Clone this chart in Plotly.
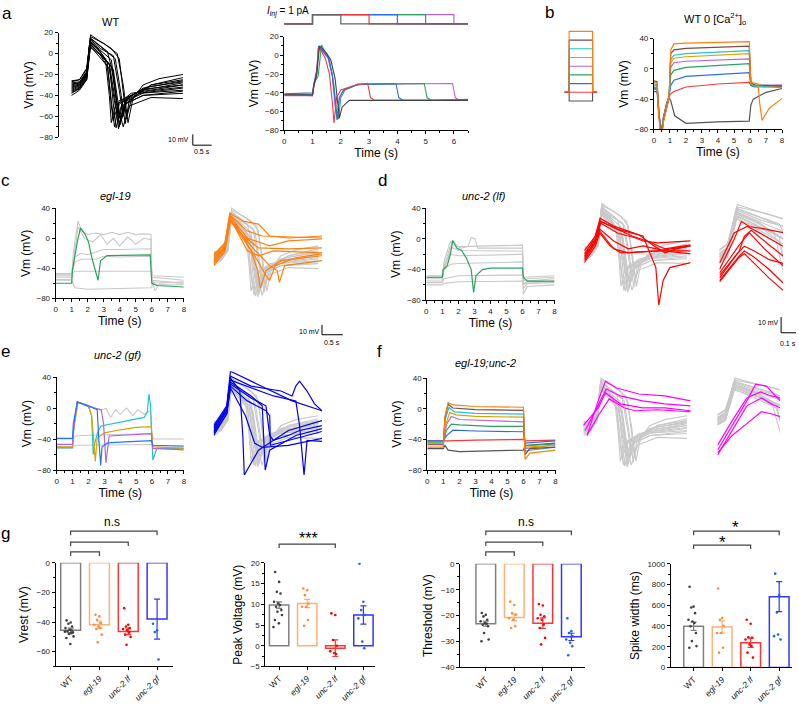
import plotly.graph_objects as go

W, H = 799, 708
FONT = "Arial, Liberation Sans, sans-serif"

GREEN = '#2ca25f'; RED = '#f03c3c'; BLUE = '#2a6fe8'; PURPLE = '#b266e0'
GOLD = '#d9a400'; CYAN = '#22c4cc'; BROWN = '#7d4b3e'; ORANGE = '#ff7f0e'; DARK = '#555555'
GREY = '#c8c8c8'

# ---------------- DATA ----------------
# panel a (left): WT spikes aligned at onset: (time s, Vm mV)
wt_spikes = [
    ([0, 0.2, 0.38, 0.48, 0.7, 1.0, 1.2, 1.3, 1.38, 1.5, 1.8, 2.2, 2.8], [-27, -25, -15, 18, 12, 5, -5, -35, -62, -45, -30, -24, -20]),
    ([0, 0.2, 0.38, 0.47, 0.7, 0.9, 1.05, 1.15, 1.2, 1.35, 1.8, 2.8], [-30, -28, -18, 15, 8, 2, -20, -55, -70, -45, -33, -26]),
    ([0, 0.2, 0.38, 0.46, 0.65, 0.85, 0.95, 1.0, 1.1, 1.5, 2.8], [-33, -30, -20, 12, 5, -5, -40, -66, -50, -38, -30]),
    ([0, 0.2, 0.38, 0.47, 0.7, 0.95, 1.1, 1.18, 1.3, 1.7, 2.8], [-35, -32, -22, 10, 2, -10, -45, -72, -50, -38, -33]),
    ([0, 0.2, 0.38, 0.48, 0.7, 0.95, 1.1, 1.22, 1.35, 1.8, 2.8], [-38, -33, -25, 8, 0, -15, -50, -68, -48, -40, -36]),
    ([0, 0.2, 0.38, 0.47, 0.75, 1.05, 1.2, 1.3, 1.45, 2.0, 2.8], [-40, -35, -25, 6, -2, -15, -55, -70, -50, -42, -43]),
    ([0, 0.2, 0.38, 0.48, 0.75, 1.1, 1.25, 1.35, 1.45, 2.0, 2.8], [-28, -27, -17, 14, 6, -5, -40, -67, -45, -30, -25]),
    ([0, 0.2, 0.38, 0.46, 0.7, 0.9, 1.0, 1.05, 1.2, 1.8, 2.8], [-31, -29, -19, 11, 3, -8, -50, -64, -45, -35, -28]),
    ([0, 0.2, 0.38, 0.47, 0.72, 1.0, 1.15, 1.25, 1.4, 1.9, 2.8], [-34, -31, -21, 9, -1, -12, -50, -64, -45, -36, -32]),
    ([0, 0.2, 0.38, 0.48, 0.8, 1.15, 1.3, 1.42, 1.55, 2.0, 2.8], [-26, -25, -14, 16, 10, 0, -30, -66, -42, -30, -23]),
    ([0, 0.2, 0.38, 0.47, 0.7, 1.0, 1.12, 1.2, 1.3, 1.8, 2.8], [-32, -30, -20, 12, 4, -6, -40, -62, -45, -34, -30]),
    ([0, 0.2, 0.38, 0.47, 0.7, 0.9, 1.0, 1.08, 1.2, 1.7, 2.8], [-36, -33, -23, 7, -3, -12, -45, -70, -48, -38, -35]),
    ([0, 0.2, 0.38, 0.48, 0.72, 1.05, 1.2, 1.3, 1.4, 1.9, 2.8], [-29, -28, -18, 13, 5, -2, -35, -60, -42, -32, -27]),
    ([0, 0.2, 0.38, 0.46, 0.68, 0.95, 1.05, 1.12, 1.25, 1.8, 2.8], [-37, -34, -24, 9, 1, -10, -48, -71, -50, -40, -38]),
]

# panel a (middle): current-step protocol end times and responses
a_step_times = [0, 1, 6.5]
a_step_ends = [6, 5, 4, 3, 2]
a_step_colors = [PURPLE, GREEN, BLUE, RED, '#666666']
a_resp = [
    (PURPLE, [0, 1, 1.05, 1.15, 1.22, 1.35, 1.55, 1.7, 1.8, 1.87, 1.95, 2.1, 2.6, 5.95, 6.05, 6.2, 6.5],
     [-43, -43, -31, -18, 9, 4, -3, -22, -55, -68, -45, -37, -31, -30, -45, -48, -48]),
    (GREEN, [0, 1, 1.05, 1.2, 1.32, 1.45, 1.6, 1.75, 1.85, 1.92, 2.0, 2.15, 2.6, 4.95, 5.05, 5.2, 6.5],
     [-42, -42, -30, -22, 11, 3, -5, -30, -60, -68, -45, -37, -31, -30, -45, -48, -47]),
    (BLUE, [0, 1, 1.05, 1.15, 1.22, 1.35, 1.55, 1.7, 1.8, 1.87, 1.95, 2.1, 2.6, 3.95, 4.05, 4.2, 6.5],
     [-41, -40, -30, -15, 10, 5, -2, -20, -50, -69, -45, -37, -31, -30, -45, -48, -48]),
    (RED, [0, 1, 1.05, 1.15, 1.2, 1.3, 1.45, 1.6, 1.7, 1.76, 1.85, 2.0, 2.5, 2.95, 3.05, 3.2, 6.5],
     [-42, -43, -33, -20, 8, 5, -3, -20, -50, -72, -45, -37, -32, -30, -45, -48, -48]),
    ('#444444', [0, 1.0, 1.05, 1.15, 1.25, 1.5, 1.65, 1.8, 1.95, 2.05, 2.3, 6.5],
     [-42, -42, -32, -20, 10, 2, -5, -25, -67, -55, -48, -48]),
]

# panel b: WT in 0 Ca, step protocol levels and responses
b_prot_times = [0, 1, 6, 7]
b_levels = [-1, 1, 2, 3, 4, 5, 6, 7, 0]
b_level_colors = [DARK, BLUE, GREEN, PURPLE, GOLD, CYAN, BROWN, ORANGE, RED]
b_t = [0, 0.2, 0.3, 0.45, 0.6, 0.8, 0.95, 1.05, 1.25, 2, 4, 5.95, 6.05, 6.3, 8]
b_resp = [
    (DARK, [0, 0.2, 0.3, 0.5, 0.65, 0.8, 0.95, 1.05, 1.3, 2, 4, 5.95, 6.05, 6.2, 7, 8],
     [-30, -30, -60, -82, -60, -45, -38, -42, -62, -72, -70, -69, -48, -40, -31, -26]),
    (RED, b_t, [-27, -27, -55, -88, -63, -45, -36, -33, -30, -24, -20, -18, -22, -23, -22]),
    (BLUE, b_t, [-25, -25, -55, -88, -64, -46, -36, -22, -15, -10, -7, -5, -22, -24, -23]),
    (GREEN, b_t, [-26, -26, -56, -90, -64, -46, -36, -8, -2, 2, 5, 7, -21, -23, -22]),
    (PURPLE, b_t, [-24, -24, -55, -90, -65, -47, -36, 2, 8, 10, 12, 13, -19, -22, -21]),
    (GOLD, b_t, [-22, -22, -55, -92, -66, -47, -37, 8, 14, 16, 18, 20, -20, -22, -24]),
    (CYAN, b_t, [-20, -21, -55, -95, -68, -48, -37, 12, 18, 20, 22, 24, -20, -23, -25]),
    (BROWN, b_t, [-16, -17, -55, -95, -68, -50, -38, 20, 25, 27, 29, 30, -18, -21, -23]),
    (ORANGE, [0, 0.2, 0.3, 0.45, 0.6, 0.8, 0.95, 1.05, 1.25, 2, 4, 5.95, 6.05, 6.5, 6.6, 6.75, 7.2, 8],
     [-18, -19, -60, -99, -70, -50, -38, 25, 33, 34, 35, 36, -18, -20, -45, -68, -52, -39]),
]

# panel c: egl-19
c_grey = [
    ([0, 1, 1.1, 1.4, 1.6, 2, 2.5, 3, 3.5, 4, 4.5, 5, 5.5, 5.95, 6.0, 6.2, 6.5, 8],
     [-50, -50, -20, 23, 10, 5, 7, 5, 8, 5, 8, 5, 6, 5, -55, -70, -60, -58]),
    ([0, 1, 1.1, 1.4, 1.8, 2.3, 2.8, 3.2, 3.6, 4.0, 4.5, 5.0, 5.5, 5.95, 6.0, 6.3, 8],
     [-55, -55, -30, 15, 0, -5, 5, -8, 0, -10, 2, -8, 0, -2, -58, -62, -62]),
    ([0, 1, 1.2, 1.6, 2.0, 2.5, 3, 4, 5, 5.95, 6.0, 8], [-52, -52, -25, -20, -22, -18, -15, -15, -15, -14, -56, -60]),
    ([0, 1, 1.2, 1.6, 2.5, 3, 4, 5, 5.95, 6.0, 8], [-48, -48, -32, -28, -28, -24, -25, -24, -24, -52, -56]),
    ([0, 1, 1.2, 2, 6, 6.05, 8], [-47, -47, -44, -44, -44, -50, -52]),
    ([0, 1, 1.2, 2, 6, 6.05, 8], [-56, -56, -66, -68, -66, -58, -60]),
]
c_green = ([0, 1.0, 1.05, 1.2, 1.35, 1.55, 1.85, 2.05, 2.25, 2.5, 2.65, 2.8, 3.2, 5.9, 6.0, 6.3, 8],
           [-60, -60, -42, -22, -5, 14, 5, -5, -25, -45, -56, -30, -23, -22, -60, -63, -65])
c_orange = [
    ([0, 0.3, 0.43, 0.8, 1.2, 1.5, 2.0, 2.9], [-30, -18, 13, 5, 2, -10, -12, -10]),
    ([0, 0.3, 0.44, 0.9, 1.5, 2.0, 2.9], [-33, -20, 10, -12, -20, -15, -13]),
    ([0, 0.3, 0.42, 0.8, 1.2, 2.0, 2.9], [-36, -22, 8, -10, -22, -23, -22]),
    ([0, 0.3, 0.43, 1.0, 1.18, 1.25, 1.4, 1.8, 2.9], [-35, -21, 12, -25, -45, -63, -45, -35, -30]),
    ([0, 0.3, 0.44, 1.1, 1.4, 1.5, 1.65, 2.2, 2.9], [-38, -24, 6, -30, -50, -55, -40, -32, -28]),
    ([0, 0.3, 0.45, 1.0, 1.5, 1.7, 1.76, 1.9, 2.9], [-40, -26, 5, -20, -40, -45, -57, -40, -35]),
    ([0, 0.3, 0.43, 0.9, 1.2, 1.6, 2.9], [-32, -20, 9, -25, -30, -25, -27]),
    ([0, 0.3, 0.44, 0.9, 1.3, 2.9], [-29, -17, 11, -5, -10, -12]),
]

# panel d: unc-2 (lf)
d_grey = [
    ([0, 1, 1.1, 1.5, 1.7, 2.2, 2.6, 2.8, 3.05, 3.2, 6, 6.05, 6.3, 8], [-52, -52, -30, -3, -8, -12, -10, 2, 0, -12, -12, -65, -58, -55]),
    ([0, 1, 1.1, 1.5, 2.0, 6, 6.05, 6.3, 8], [-55, -55, -35, -10, -15, -16, -72, -62, -60]),
    ([0, 1, 1.1, 1.5, 2.0, 6, 6.05, 6.3, 8], [-48, -48, -35, -20, -22, -20, -60, -55, -52]),
    ([0, 1, 1.1, 1.5, 2.0, 6, 6.05, 6.3, 8], [-50, -50, -40, -33, -32, -30, -55, -52, -50]),
    ([0, 1, 1.1, 2.0, 6, 6.05, 8], [-57, -57, -52, -48, -47, -50, -48]),
    ([0, 1, 1.1, 2.0, 6, 6.05, 8], [-60, -60, -58, -56, -55, -58, -57]),
    ([0, 1, 1.1, 1.5, 1.6, 2.0, 6, 6.05, 6.3, 8], [-50, -50, -40, -15, -2, -10, -8, -60, -55, -56]),
]
d_green = ([0, 1, 1.05, 1.3, 1.5, 1.65, 1.9, 2.2, 2.5, 2.8, 2.95, 3.1, 3.5, 4, 6, 6.05, 6.3, 8],
           [-50, -50, -40, -35, -20, -2, -12, -15, -25, -40, -70, -48, -40, -38, -38, -50, -55, -55])
d_red_full = [
    ([0, 0.3, 0.43, 0.8, 1.2, 1.5, 1.9, 2.2, 2.5, 2.9], [-30, -15, 3, -5, -10, -14, -25, -32, -28, -25]),
    ([0, 0.3, 0.45, 0.9, 1.4, 1.6, 2.0, 2.9], [-33, -18, -2, -12, -17, -20, -22, -20]),
    ([0, 0.3, 0.44, 0.9, 1.3, 1.6, 1.95, 2.03, 2.15, 2.33, 2.9], [-36, -20, 0, -8, -12, -15, -47, -85, -60, -47, -42]),
    ([0, 0.3, 0.42, 0.8, 1.2, 2.0, 2.9], [-38, -20, -10, -28, -32, -30, -25]),
    ([0, 0.3, 0.42, 0.7, 1.0, 2.0, 2.9], [-42, -25, -12, -25, -32, -30, -30]),
    ([0, 0.3, 0.43, 0.9, 1.3, 1.7, 2.2, 2.9], [-35, -15, 0, -8, -15, -20, -28, -24]),
    ([0, 0.3, 0.42, 0.8, 1.2, 1.6, 2.2, 2.9], [-40, -22, -8, -20, -28, -25, -30, -33]),
]
d_red_zoom = [
    ([0.3, 0.45, 0.52, 0.6, 0.75, 0.94], [-35, -10, 4, 0, -2, -5]),
    ([0.3, 0.45, 0.58, 0.7, 0.94], [-30, -5, 0, -5, -16]),
    ([0.3, 0.5, 0.55, 0.62, 0.8, 0.94], [-40, -20, -8, -3, -15, -24]),
    ([0.3, 0.48, 0.55, 0.65, 0.8, 0.94], [-42, -22, -16, -20, -27, -30]),
    ([0.3, 0.5, 0.55, 0.65, 0.8, 0.94], [-44, -24, -20, -25, -35, -46]),
    ([0.3, 0.5, 0.55, 0.65, 0.8, 0.94], [-45, -25, -22, -30, -42, -52]),
    ([0.3, 0.5, 0.6, 0.75, 0.94], [-38, -15, -5, -18, -32]),
]

# panel e: unc-2 (gf)
e_grey = [
    ([0, 1, 1.2, 2, 6, 6.1, 8], [-40, -40, -36, -35, -33, -40, -40]),
    ([0, 1, 1.2, 6, 6.1, 8], [-50, -50, -48, -47, -50, -52]),
    ([0, 1, 1.1, 1.3, 2.0, 2.8, 3.1, 3.4, 3.7, 4.0, 4.4, 4.8, 5.1, 5.5, 5.9, 6.0, 8],
     [-52, -52, -20, 8, 3, -3, 0, -12, -2, -8, 0, -10, -2, -8, -3, -48, -50]),
]
e_color = [
    (CYAN, [0, 1, 1.05, 1.3, 2.0, 2.2, 2.3, 2.4, 2.6, 2.8, 4, 5.5, 5.7, 5.8, 5.9, 6.0, 6.05, 6.3, 8],
     [-51, -51, -30, 8, 2, -10, -60, -45, -30, -23, -18, -12, -5, 18, 5, -50, -67, -52, -52]),
    (GOLD, [0, 1, 1.05, 1.2, 1.35, 2.0, 2.2, 2.35, 2.43, 2.55, 3.0, 4, 5, 5.95, 6.05, 8],
     [-50, -50, -30, -10, 8, 3, -10, -45, -69, -39, -32, -28, -25, -24, -50, -52]),
    (PURPLE, [0, 1, 1.1, 1.3, 2.0, 2.8, 2.95, 3.05, 3.1, 3.3, 5.95, 6.05, 8],
     [-47, -47, -20, 8, 2, -2, -20, -60, -71, -36, -33, -52, -54]),
    ('#1e78ff', [0, 1, 1.05, 1.3, 2.0, 2.55, 2.65, 2.77, 2.85, 3.2, 4, 5, 5.95, 6.05, 8],
     [-39, -39, -20, 8, 3, -2, -40, -74, -50, -45, -44, -43, -42, -48, -49]),
]
e_blue = [
    ([0, 0.35, 0.45, 1.05, 1.85, 2.1, 2.9], [-30, -10, 25, 14, -1, -5, -15]),
    ([0, 0.35, 0.45, 0.7, 0.78, 0.82, 1.2, 2.0, 2.9], [-33, -12, 18, 5, -40, -80, -55, -35, -25]),
    ([0, 0.35, 0.45, 1.0, 1.3, 1.38, 1.5, 2.2, 2.9], [-36, -15, 14, 0, -10, -75, -55, -40, -33]),
    ([0, 0.35, 0.45, 0.9, 1.4, 1.5, 1.52, 2.0, 2.9], [-38, -18, 10, -5, -15, -20, -50, -45, -36]),
    ([0, 0.35, 0.45, 0.85, 1.1, 1.3, 2.0, 2.9], [-40, -18, 8, -20, -48, -52, -50, -43]),
    ([0, 0.35, 0.45, 1.0, 1.6, 2.2, 2.3, 2.42, 2.5, 2.9], [-35, -14, 16, 8, 0, -5, -30, -80, -45, -46]),
    ([0, 0.35, 0.45, 1.0, 1.4, 1.5, 1.6, 2.0, 2.3, 2.9], [-37, -15, 12, -2, -10, -40, -45, -40, -35, -30]),
    ([0, 0.35, 0.45, 1.0, 1.8, 2.1, 2.2, 2.3, 2.5, 2.7, 2.9], [-32, -12, 20, 10, 5, 0, 10, 15, 5, -8, -15]),
]

# panel f: egl-19;unc-2
f_t = [0, 1, 1.1, 1.3, 1.6, 3, 6, 6.1, 6.4, 8]
f_resp = [
    (DARK, [0, 1, 1.1, 1.3, 2, 4, 6, 6.1, 8], [-52, -52, -48, -54, -56, -55, -54, -48, -45]),
    (RED, [0, 1, 1.3, 3, 6, 6.1, 8], [-42, -42, -42, -41, -40, -42, -41]),
    (BLUE, [0, 1, 1.2, 1.6, 3, 6, 6.1, 8], [-42, -42, -35, -28, -29, -30, -45, -42]),
    (GREEN, [0, 1, 1.2, 1.5, 2, 4, 6, 6.1, 8], [-43, -43, -28, -20, -21, -23, -23, -48, -46]),
    (PURPLE, [0, 1, 1.2, 1.5, 2, 3, 6, 6.1, 8], [-46, -46, -20, -10, -14, -15, -17, -52, -47]),
    (GOLD, [0, 1, 1.15, 1.4, 1.8, 3, 6, 6.1, 8], [-44, -44, -20, -5, -8, -10, -11, -50, -48]),
    (CYAN, [0, 1, 1.1, 1.35, 1.7, 3, 6, 6.1, 8], [-45, -45, -15, 2, -4, -6, -7, -55, -50]),
    (BROWN, f_t, [-47, -47, -12, 6, 1, -1, -2, -60, -52, -50]),
    (ORANGE, f_t, [-50, -50, -10, 8, 5, 3, 2, -66, -58, -54]),
]
f_mag_full = [
    ([0.1, 0.4, 0.6, 0.9, 1.5, 2.2, 2.9], [-40, -5, 15, 8, 2, 0, -5]),
    ([0.05, 0.4, 0.62, 1.0, 1.6, 2.2, 2.9], [-35, -10, 7, 0, -5, -8, -10]),
    ([0.0, 0.4, 0.6, 1.0, 1.6, 2.2, 2.9], [-30, -12, 3, -8, -12, -12, -15]),
    ([0.1, 0.4, 0.7, 1.1, 1.4, 2.0, 2.9], [-40, -20, -3, -12, -15, -14, -16]),
]
f_mag_zoom = [
    ([0.3, 0.45, 0.6, 0.69, 0.8, 0.94], [-55, -30, -5, 12, 10, -5]),
    ([0.3, 0.45, 0.6, 0.74, 0.85, 0.94], [-50, -25, -2, 4, 0, -2]),
    ([0.3, 0.45, 0.6, 0.75, 0.85, 0.94], [-60, -35, -10, -2, -8, -12]),
    ([0.3, 0.45, 0.6, 0.75, 0.85, 0.94], [-58, -40, -28, -16, -18, -21]),
]

# panel g: summary statistics
g_groups = ['WT', '<i>egl-19</i>', '<i>unc-2 lf</i>', '<i>unc-2 gf</i>']
g_bar_colors = ['#808080', '#ffb074', '#ff3434', '#3434ff']
g_dot_colors = ['#404040', '#ff8a3d', '#ff0000', '#2060ff']
vrest_mean = [-45.6, -41.8, -46.3, -38.0]
vrest_sem = [1.5, 2.5, 2.2, 13.5]
vrest_pts = [
    [-38.9, -40.3, -41.2, -43.0, -44.1, -45.2, -45.6, -46.3, -47.0, -48.1, -49.7, -50.8, -54.8, -46.5, -47.5],
    [-35.1, -36.2, -38.5, -40.7, -41.8, -43.0, -44.1, -44.7, -48.5, -53.7],
    [-30.6, -41.8, -43.0, -44.1, -44.7, -45.6, -47.0, -48.5, -50.1, -55.3],
    [-41.2, -45.6, -46.8, -65.3],
]
peak_mean = [9.8, 10.2, -0.6, 7.4]
peak_sem = [0.8, 1.0, 2.0, 2.2]
peak_pts = [
    [17.8, 15.4, 13.0, 12.6, 10.6, 10.2, 9.8, 9.4, 8.6, 8.2, 7.4, 6.2, 5.4, 4.5],
    [13.8, 13.4, 12.2, 10.2, 9.4, 9.4, 6.2, 4.8],
    [7.8, 7.4, 1.4, 0.0, -1.35, -1.75, -2.0],
    [19.8, 10.6, 8.6, 7.4, 6.6, 1.0, -0.6],
]
thr_mean = [-23.1, -20.7, -22.9, -28.2]
thr_sem = [1.0, 1.3, 2.0, 1.4]
thr_pts = [
    [-19.0, -19.7, -20.3, -21.6, -22.2, -22.9, -23.1, -23.5, -24.1, -26.7, -29.2, -29.9],
    [-14.6, -15.9, -19.0, -19.7, -21.0, -21.6, -24.1, -24.8],
    [-15.5, -16.1, -19.7, -20.3, -21.0, -21.6, -23.5, -24.8, -28.6, -31.1],
    [-21.0, -26.0, -26.7, -28.0, -29.2, -30.5, -31.8, -35.3],
]
width_mean = [397, 390, 238, 683]
width_sem = [40, 60, 45, 145]
width_pts = [
    [778, 587, 578, 524, 460, 444, 429, 397, 333, 254, 206, 190],
    [762, 476, 460, 403, 333, 333, 190, 143],
    [460, 422, 292, 286, 270, 222, 206, 143, 95],
    [905, 698, 530, 270, 302, 317],
]
dot_jitter = [-0.10, 0.04, -0.04, 0.09, -0.14, 0.0, 0.07, -0.07, 0.12, -0.02, 0.14, -0.11, 0.03, -0.16, 0.06]

# ---------------- FIGURE ----------------
fig = go.Figure()
layout = {}
count = [0]

AXLINE = dict(showline=True, linecolor='black', linewidth=1, ticks='outside', ticklen=3,
              tickwidth=1, tickcolor='black', showgrid=False, zeroline=False,
              tickfont=dict(size=8, family=FONT, color='#222'))


def add_axes(xpx, ypx, xr, yr, xopt=None, yopt=None):
    count[0] += 1
    n = count[0]
    s = '' if n == 1 else str(n)
    xa = dict(domain=[xpx[0] / W, xpx[1] / W], range=xr, anchor='y' + s, fixedrange=True)
    ya = dict(domain=[1 - ypx[1] / H, 1 - ypx[0] / H], range=yr, anchor='x' + s, fixedrange=True)
    if xopt is None:
        xa['visible'] = False
    else:
        xa.update(AXLINE); xa.update(xopt)
    if yopt is None:
        ya['visible'] = False
    else:
        ya.update(AXLINE); ya.update(yopt)
    layout['xaxis' + s] = xa
    layout['yaxis' + s] = ya
    return 'x' + s, 'y' + s


def line(ax, t, v, color, width=1.0):
    fig.add_trace(go.Scatter(x=t, y=v, mode='lines', line=dict(color=color, width=width),
                             xaxis=ax[0], yaxis=ax[1], hoverinfo='skip', showlegend=False))


def ytitle(txt, standoff=3):
    return dict(text=txt, font=dict(size=12, family=FONT, color='black'), standoff=standoff)


VM_Y = dict(tickvals=[-80, -40, 0, 40], minor=dict(dtick=20, ticklen=2, ticks='outside', tickcolor='black'),
            title=ytitle('Vm (mV)'))
TIME_X = dict(tickvals=list(range(9)), minor=dict(dtick=0.5, ticklen=2, ticks='outside', tickcolor='black'),
              title=dict(text='Time (s)', font=dict(size=12, family=FONT, color='black'), standoff=2))

# a left
ax = add_axes([57, 190], [29, 135], [-0.325, 3.0], [-80, 20], None,
              dict(tickvals=[-80, -60, -40, -20, 0, 20], minor=dict(dtick=10, ticklen=2, ticks='outside', tickcolor='black'),
                   title=ytitle('Vm (mV)')))
for t, v in wt_spikes:
    line(ax, t, v, 'black', 1.0)

# a middle protocol
ax = add_axes([284, 469], [8, 23], [0, 6.5], [-0.3, 1.3])
for end, col in zip(a_step_ends, a_step_colors):
    line(ax, [a_step_times[0], a_step_times[1], a_step_times[1], end, end, a_step_times[2]],
         [0, 0, 1, 1, 0, 0], col, 1.2)
# a middle responses
ax = add_axes([284, 469], [33, 128], [0, 6.5], [-80, 20],
              dict(TIME_X, tickvals=list(range(7))),
              dict(tickvals=[-80, -60, -40, -20, 0, 20], minor=dict(dtick=10, ticklen=2, ticks='outside', tickcolor='black'),
                   title=ytitle('Vm (mV)')))
for col, t, v in a_resp:
    line(ax, t, v, col, 1.1)

# b protocol
ax = add_axes([566, 599], [26, 100], [0, 7], [-1.2, 7.2])
for lev, col in zip(b_levels, b_level_colors):
    p = b_prot_times
    line(ax, [p[0], p[1], p[1], p[2], p[2], p[3]], [0, 0, lev, lev, 0, 0], col, 1.1)
# b responses
ax = add_axes([656, 785], [35, 127], [0, 8], [-80, 40], TIME_X, VM_Y)
for col, t, v in b_resp:
    line(ax, t, v, col, 1.2)

# c
ax = add_axes([54, 183], [207, 298], [0, 8], [-80, 40], TIME_X, VM_Y)
for t, v in c_grey:
    line(ax, t, v, GREY, 1.1)
line(ax, c_green[0], c_green[1], GREEN, 1.2)
ax = add_axes([213, 322], [200, 305], [0, 2.9], [-80, 25])
for t, v in wt_spikes:
    line(ax, t, v, GREY, 1.1)
for t, v in c_orange:
    line(ax, t, v, ORANGE, 1.2)

# d
ax = add_axes([427, 556], [207, 300], [0, 8], [-80, 40], TIME_X, VM_Y)
for t, v in d_grey:
    line(ax, t, v, GREY, 1.1)
line(ax, d_green[0], d_green[1], GREEN, 1.2)
ax = add_axes([586, 693], [198, 305], [0, 2.9], [-85, 22])
for t, v in wt_spikes:
    line(ax, t, v, GREY, 1.1)
for t, v in d_red_full:
    line(ax, t, v, '#ff0000', 1.2)
ax = add_axes([722, 786], [198, 300], [0.3, 0.94], [-60, 22])
for t, v in wt_spikes:
    line(ax, t, v, GREY, 1.1)
for t, v in d_red_zoom:
    line(ax, t, v, '#ff0000', 1.2)

# e
ax = add_axes([55, 183], [378, 472], [0, 8], [-80, 40], TIME_X, VM_Y)
for t, v in e_grey:
    line(ax, t, v, GREY, 1.1)
for col, t, v in e_color:
    line(ax, t, v, col, 1.2)
ax = add_axes([213, 322], [372, 477], [0, 2.9], [-80, 25])
for t, v in wt_spikes:
    line(ax, t, v, GREY, 1.1)
for t, v in e_blue:
    line(ax, t, v, '#0000ee', 1.2)

# f
ax = add_axes([428, 557], [379, 472], [0, 8], [-80, 40], TIME_X, VM_Y)
for col, t, v in f_resp:
    line(ax, t, v, col, 1.2)
ax = add_axes([585, 693], [372, 477], [0, 2.9], [-80, 25])
for t, v in wt_spikes:
    line(ax, t, v, GREY, 1.1)
for t, v in f_mag_full:
    line(ax, t, v, '#ff00ff', 1.2)
ax = add_axes([720, 783], [372, 477], [0.3, 0.94], [-80, 25])
for t, v in wt_spikes:
    line(ax, t, v, GREY, 1.1)
for t, v in f_mag_zoom:
    line(ax, t, v, '#ff00ff', 1.2)

# g bar charts
CAT_X = dict(tickvals=[0, 1, 2, 3], ticktext=g_groups, tickangle=-45,
             tickfont=dict(size=8.5, family=FONT, color='#222'))


def bar_panel(xpx, ypx, xr, yr, yopt, means, sems, pts):
    ax = add_axes(xpx, ypx, xr, yr, CAT_X, yopt)
    for i in range(4):
        fig.add_trace(go.Bar(x=[i], y=[means[i]], width=0.69, xaxis=ax[0], yaxis=ax[1],
                             marker=dict(color='rgba(255,255,255,0)', line=dict(color=g_bar_colors[i], width=1.5)),
                             error_y=dict(type='data', array=[sems[i]], color=g_bar_colors[i], thickness=1.2, width=3),
                             hoverinfo='skip', showlegend=False))
        fig.add_trace(go.Scatter(x=[i - 0.04 + dot_jitter[k % len(dot_jitter)] for k in range(len(pts[i]))],
                                 y=pts[i], mode='markers', xaxis=ax[0], yaxis=ax[1],
                                 marker=dict(size=2.6, color=g_dot_colors[i]), hoverinfo='skip', showlegend=False))
    return ax


gA = bar_panel([54, 172], [566, 671], [-0.52, 3.55], [-70, 0],
               dict(tickvals=[0, -20, -40, -60], minor=dict(dtick=10, ticklen=2, ticks='outside', tickcolor='black'),
                    title=ytitle('Vrest (mV)', 5)), vrest_mean, vrest_sem, vrest_pts)
gB = bar_panel([265, 375], [566, 671], [-0.49, 3.4], [-5, 20],
               dict(tickvals=[-5, 0, 5, 10, 15, 20], minor=dict(dtick=2.5, ticklen=2, ticks='outside', tickcolor='black'),
                    title=ytitle('Peak Voltage (mV)', 5)), peak_mean, peak_sem, peak_pts)
gC = bar_panel([461, 587], [567, 672], [-0.9, 3.49], [-40, 0],
               dict(tickvals=[0, -10, -20, -30, -40], minor=dict(dtick=5, ticklen=2, ticks='outside', tickcolor='black'),
                    title=ytitle('Threshold (mV)', 5)), thr_mean, thr_sem, thr_pts)
gD = bar_panel([673, 795], [567, 672], [-0.8, 3.45], [0, 1000],
               dict(tickvals=[0, 200, 400, 600, 800, 1000], minor=dict(dtick=100, ticklen=2, ticks='outside', tickcolor='black'),
                    title=ytitle('Spike width (ms)', 5)), width_mean, width_sem, width_pts)

shapes = []
annotations = []


def py(p):
    return 1 - p / H


def bracket(axx, c0, c1, ypx, drop=4, color='#444444'):
    shapes.append(dict(type='path', xref=axx, yref='paper',
                       path=f'M {c0},{py(ypx + drop)} L {c0},{py(ypx)} L {c1},{py(ypx)} L {c1},{py(ypx + drop)}',
                       line=dict(color=color, width=1.2)))


for h, c in [(555, 1), (545, 2), (534, 3)]:
    bracket(gA[0], 0, c, h)
    bracket(gC[0], 0, c, h)
bracket(gB[0], 0, 2, 547)
bracket(gD[0], 0, 2, 548)
bracket(gD[0], 0, 3, 534)


def text(x, y, s, size=9, **kw):
    annotations.append(dict(x=x / W, y=py(y), xref='paper', yref='paper', text=s, showarrow=False,
                            font=dict(size=size, family=FONT, color=kw.pop('color', 'black')),
                            xanchor=kw.pop('xanchor', 'center'), yanchor=kw.pop('yanchor', 'middle'), **kw))


text(111, 525, 'n.s', 12)
text(527, 525, 'n.s', 12)
text(308, 541, '***', 16)
text(725, 545, '*', 17)
text(738, 530, '*', 17)

# panel letters
for lt, x, y in [('a', 5, 10), ('b', 551, 9), ('c', 4, 179), ('d', 383, 179), ('e', 4, 352), ('f', 380, 352), ('g', 4, 536)]:
    text(x, y, lt, 17)

# titles
text(109, 18, 'WT', 11)
text(114, 194, '<i>egl-19</i>', 11)
text(485, 194, '<i>unc-2 (lf)</i>', 11)
text(116, 356, '<i>unc-2 (gf)</i>', 11)
text(487, 364, '<i>egl-19;unc-2</i>', 11)
text(717, 15, 'WT 0 [Ca<sup>2+</sup>]<sub>o</sub>', 11)
text(288, 8, '<i>I</i><sub><i>inj</i></sub> = 1 pA', 10)

# scale bars
for (vx, vy0, vy1, hx1, lab_v, lab_vx, lab_vy, lab_h, lab_hx, lab_hy) in [
        (192, 132, 143, 211, '10 mV', 178, 137, '0.5 s', 201, 149),
        (322, 325, 335, 343, '10 mV', 309, 332, '0.5 s', 332, 343),
        (784, 317, 333, 799, '10 mV', 771, 323, '0.1 s', 791, 344)]:
    shapes.append(dict(type='line', xref='paper', yref='paper', x0=vx / W, x1=vx / W, y0=py(vy0), y1=py(vy1),
                       line=dict(color='black', width=1)))
    shapes.append(dict(type='line', xref='paper', yref='paper', x0=vx / W, x1=hx1 / W, y0=py(vy1), y1=py(vy1),
                       line=dict(color='black', width=1)))
    text(lab_vx, lab_vy, lab_v, 7)
    text(lab_hx, lab_hy, lab_h, 7)

fig.update_layout(width=W, height=H, margin=dict(l=0, r=0, t=0, b=0), paper_bgcolor='white',
                  plot_bgcolor='rgba(0,0,0,0)', showlegend=False, barmode='overlay',
                  font=dict(family=FONT), shapes=shapes, annotations=annotations, **layout)
fig.write_html("out.html", config={'displayModeBar': False},
               post_script="document.body.style.margin='0';document.body.style.overflow='hidden';")
